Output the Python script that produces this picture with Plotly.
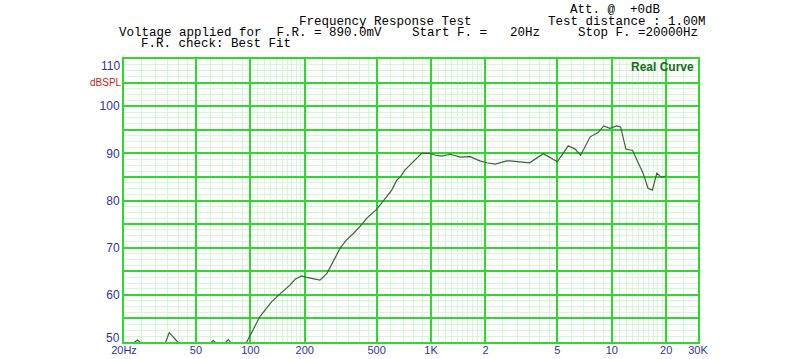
import plotly.graph_objects as go

# ---- data ----
freq_hz = [20, 22, 23.7, 25.5, 30, 34, 35.6, 39.6, 43, 55, 60, 62.4, 65, 70, 75.6, 79, 88,
           95.5, 113, 131, 146, 165, 177, 192, 205, 225, 243, 266, 290, 314, 340, 372, 420,
           440, 500, 568, 606, 646, 676, 718, 798, 888, 988, 1060, 1146, 1276, 1450, 1648,
           1860, 2036, 2266, 2620, 2740, 3036, 3510, 4180, 5000, 5740, 6270, 6720, 7600,
           8400, 9020, 9770, 10640, 11200, 11960, 13030, 14900, 15870, 16770, 17760, 18830,
           19920]
spl_db = [48.8, 49.5, 50.4, 49.5, 48.0, 50.0, 52.0, 50.0, 48.5, 48.5, 49.7, 50.3, 49.7, 49.3,
          50.5, 49.6, 48.8, 50.0, 55.4, 58.5, 60.2, 62.0, 63.3, 64.0, 63.7, 63.3, 63.1, 64.6,
          67.5, 69.9, 71.6, 73.0, 75.2, 76.2, 78.1, 80.8, 82.2, 84.3, 85.0, 86.5, 88.2, 90.0,
          90.0, 89.6, 89.4, 89.8, 89.2, 89.3, 88.4, 88.0, 87.7, 88.4, 88.4, 88.2, 88.0, 89.9,
          88.2, 91.6, 90.9, 89.6, 93.5, 94.4, 95.8, 95.3, 95.8, 95.6, 90.9, 90.6, 85.8, 82.6,
          82.2, 85.8, 84.9, 85.2]

x_tick_vals = [20, 50, 100, 200, 500, 1000, 2000, 5000, 10000, 20000, 30000]
x_tick_text = ["20Hz", "50", "100", "200", "500", "1K", "2", "5", "10", "20", "30K"]
y_major_vals = [50, 55, 60, 65, 70, 75, 80, 85, 90, 95, 100, 105, 110]
y_tick_text = ["", "", "60", "", "70", "", "80", "", "90", "", "100", "", ""]
y_edge_labels = ["50", "110"]   # drawn nudged inside the plot height, as in the reference

# minor log grid positions (standard log-paper pattern)
x_minor = []
for dec in [10, 100, 1000, 10000]:
    for m in [1.1, 1.2, 1.3, 1.4, 1.5, 1.6, 1.7, 1.8, 1.9, 2.5, 3, 3.5, 4, 4.5, 6, 7, 8, 9]:
        v = m * dec
        if 20 <= v <= 30000:
            x_minor.append(v)
x_minor += [25, 30, 35, 40, 45, 60, 70, 80, 90]

MAJOR = "#2ed82e"
MINOR = "#d6f6d6"
BLUE = "#33339a"
SANS = "Liberation Sans, Arial, sans-serif"

fig = go.Figure()
fig.add_trace(go.Scatter(x=freq_hz, y=spl_db, mode="lines",
                         line=dict(color="#3f5f3f", width=1.2), showlegend=False,
                         hoverinfo="x+y"))

fig.update_layout(
    width=800, height=359,
    margin=dict(l=124, r=102, t=59, b=17),
    paper_bgcolor="white", plot_bgcolor="white",
    showlegend=False,
    font=dict(family=SANS, color=BLUE),
)
fig.update_xaxes(type="log", range=[1.30103, 4.47712], automargin=False,
                 tickvals=x_tick_vals, ticktext=x_tick_text,
                 tickfont=dict(size=11, color=BLUE),
                 showgrid=True, gridcolor=MAJOR, gridwidth=1.6,
                 showline=True, linecolor=MAJOR, linewidth=2, mirror=True,
                 ticks="", ticklabelstandoff=-3,
                 minor=dict(tickvals=x_minor, showgrid=True, gridcolor=MINOR, gridwidth=1, ticks=""),
                 zeroline=False)
fig.update_yaxes(range=[50, 110], automargin=False,
                 tickvals=y_major_vals, ticktext=y_tick_text,
                 tickfont=dict(size=12, color=BLUE),
                 showgrid=True, gridcolor=MAJOR, gridwidth=1.6,
                 showline=True, linecolor=MAJOR, linewidth=2, mirror=True,
                 ticks="", ticklabelstandoff=0,
                 minor=dict(dtick=1.25, showgrid=True, gridcolor=MINOR, gridwidth=1, ticks=""),
                 zeroline=False)

# end labels of the y axis, nudged inwards like the reference
for txt, py in zip(y_edge_labels, [337.5, 65.5]):
    fig.add_annotation(text=txt, xref="paper", yref="paper",
                       x=(122 - 124) / 574, y=(342 - py) / 283,
                       xanchor="right", yanchor="middle", showarrow=False,
                       font=dict(family=SANS, size=12, color=BLUE))

mono = dict(family="Liberation Mono, Courier New, monospace", size=12.5, color="black")
NB = "\u00a0"
header = [
    ("Att. @" + NB * 2 + "+0dB", 568, 10),
    ("Frequency Response Test", 297, 22),
    ("Test distance : 1.00M", 546, 22),
    ("Voltage applied for" + NB * 2 + "F.R. = 890.0mV", 117, 33),
    ("Start F. =", 410, 33),
    ("20Hz", 508, 33),
    ("Stop F. =20000Hz", 576, 33),
    ("F.R. check: Best Fit", 139, 44),
]
for txt, px, py in header:
    fig.add_annotation(text=txt, xref="paper", yref="paper",
                       x=(px - 124) / 574, y=(342 - py) / 283,
                       xanchor="left", yanchor="middle", showarrow=False, font=mono)

fig.add_annotation(text="dBSPL", xref="paper", yref="paper",
                   x=(123.5 - 124) / 574, y=(342 - 82) / 283,
                   xanchor="right", yanchor="middle", showarrow=False,
                   font=dict(family=SANS, size=10, color="#cc2222"))
fig.add_annotation(text="<b>Real Curve</b>", xref="paper", yref="paper",
                   x=(696 - 124) / 574, y=(342 - 67) / 283,
                   xanchor="right", yanchor="middle", showarrow=False,
                   font=dict(family=SANS, size=12, color="#1a6a1a"))

fig.write_html("out.html", config={"displayModeBar": False},
               post_script="document.body.style.margin='0px';")
